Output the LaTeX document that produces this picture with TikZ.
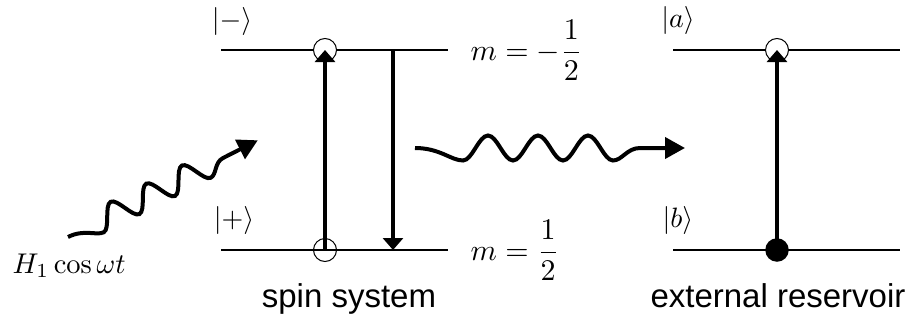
\documentclass[tikz,border=0pt]{standalone}
\usepackage{fontspec}
\setsansfont{Liberation Sans}
\usetikzlibrary{arrows.meta}
\begin{document}
\begin{tikzpicture}[x=1pt,y=-1pt,
  level/.style={line width=2.8pt},
  varrow/.style={line width=3.2pt,-{Triangle[length=12pt,width=20pt]}},
  wave/.style={line width=4pt,-{Triangle[length=20pt,width=21pt]}},
  ket/.style={inner sep=0pt,scale=2.8},
  mlabel/.style={inner sep=0pt,anchor=base west,scale=3.0},
  hlabel/.style={inner sep=0pt,anchor=base west,scale=2.85},
  caption/.style={inner sep=0pt,anchor=base,font=\sffamily\fontsize{33}{40}\selectfont},
  opencirc/.style={circle,draw,line width=1pt,minimum size=23pt,inner sep=0pt},
  dotcirc/.style={circle,fill=black,minimum size=23.5pt,inner sep=0pt}]
\useasboundingbox (0,0) rectangle (916,327);

% levels of spin system
\coordinate (sta) at (221,50);  \coordinate (stb) at (448,50);
\coordinate (sba) at (221,250); \coordinate (sbb) at (448,250);
\draw[level] (sta) -- (stb);
\draw[level] (sba) -- (sbb);
% levels of reservoir
\coordinate (rta) at (673,50);  \coordinate (rtb) at (900,50);
\coordinate (rba) at (673,250); \coordinate (rbb) at (900,250);
\draw[level] (rta) -- (rtb);
\draw[level] (rba) -- (rbb);

% circles
\node[opencirc,fill=white] (ct) at (325,50) {};
\node[opencirc] (cb) at (325,250) {};
\node[opencirc,fill=white] (rt) at (777,50) {};
\node[dotcirc] (rb) at (777,250) {};

% vertical arrows
\draw[varrow] (cb.center) -- (ct.center);
\coordinate (da) at (393,50);
\coordinate (db) at (393,250);
\draw[varrow] (da) -- (db);
\draw[varrow] (rb.center) -- (rt.center);

% kets
\node[ket] (km) at (232,21) {$|-\rangle$};
\node[ket] (kp) at (234,220) {$|+\rangle$};
\node[ket] (ka) at (678,20) {$|a\rangle$};
\node[ket] (kb) at (678,220) {$|b\rangle$};

% m labels
\node[mlabel] (mt) at (470,60) {$\displaystyle m=-\frac{1}{2}$};
\node[mlabel] (mb) at (470,260) {$\displaystyle m=\frac{1}{2}$};

% H1 label
\node[hlabel] (hl) at (12,273) {$H_1\cos\omega t$};

% captions
\node[caption] (c1) at (349,307) {spin system};
\node[caption] (c2) at (778,307) {external reservoir};

% incoming wave
\begin{scope}[shift={(68,237)},rotate=27]
\coordinate (wa) at (0,0);
\coordinate (wb) at (213,0);
\draw[wave] (wa) .. controls (18,0) and (26,12) .. (34,12)
  .. controls (41.3,12) and (46.7,-12) .. (54,-12)
  .. controls (61.3,-12) and (66.7,12) .. (74,12)
  .. controls (81.3,12) and (86.7,-12) .. (94,-12)
  .. controls (101.3,-12) and (106.7,12) .. (114,12)
  .. controls (121.3,12) and (126.7,-12) .. (134,-12)
  .. controls (141.3,-12) and (146.7,12) .. (154,12)
  .. controls (161,12) and (164,0) .. (174,0) -- (wb);
\end{scope}

% outgoing wave
\begin{scope}[shift={(415,148)}]
\coordinate (va) at (0,0);
\coordinate (vb) at (270,0);
\draw[wave] (va) .. controls (25,0) and (36,12.5) .. (48,12.5)
  .. controls (57.1,12.5) and (63.9,-12.5) .. (73,-12.5)
  .. controls (82.1,-12.5) and (88.9,12.5) .. (98,12.5)
  .. controls (107.1,12.5) and (113.9,-12.5) .. (123,-12.5)
  .. controls (132.1,-12.5) and (138.9,12.5) .. (148,12.5)
  .. controls (157.1,12.5) and (163.9,-12.5) .. (173,-12.5)
  .. controls (182.1,-12.5) and (188.9,12.5) .. (198,12.5)
  .. controls (207,12.5) and (212,0) .. (225,0) -- (vb);
\end{scope}
\end{tikzpicture}
\end{document}
